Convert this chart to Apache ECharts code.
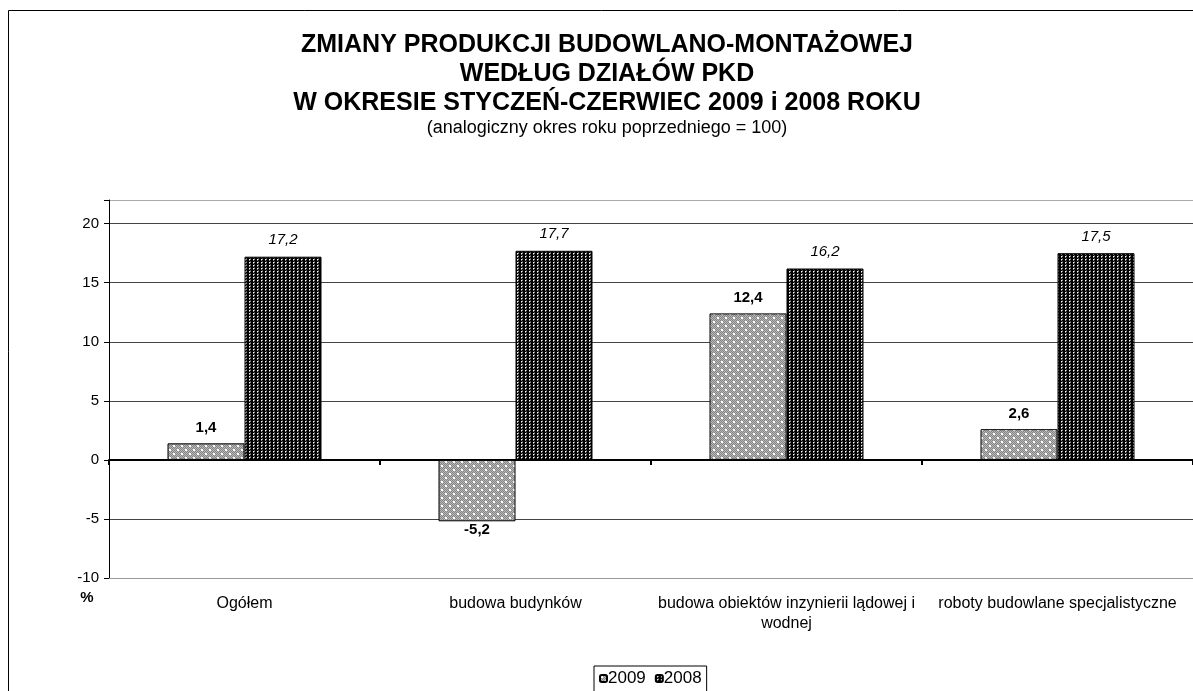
<!DOCTYPE html>
<html><head><meta charset="utf-8">
<script src="https://cdn.jsdelivr.net/npm/echarts@6/dist/echarts.min.js"></script>
<style>html,body{margin:0;padding:0;background:#fff}#c{width:1193px;height:691px}</style>
</head><body><div id="c"></div>
<script>
const categories = ['Ogółem', 'budowa budynków', 'budowa obiektów inzynierii lądowej i\nwodnej', 'roboty budowlane specjalistyczne'];
const values2009 = [1.4, -5.2, 12.4, 2.6];
const values2008 = [17.2, 17.7, 16.2, 17.5];
const seriesNames = ['2009', '2008'];
const titleLines = ['ZMIANY PRODUKCJI BUDOWLANO-MONTAŻOWEJ', 'WEDŁUG DZIAŁÓW PKD', 'W OKRESIE STYCZEŃ-CZERWIEC 2009 i 2008 ROKU'];
const subtitle = '(analogiczny okres roku poprzedniego = 100)';

function pat2009() {
  const c = document.createElement('canvas'); c.width = 8; c.height = 8;
  const g = c.getContext('2d');
  for (let y = 0; y < 8; y++) for (let x = 0; x < 8; x++) {
    g.fillStyle = ((x + y) % 2 === 0) ? '#858585' : '#b8b8b8';
    g.fillRect(x, y, 1, 1);
  }
  g.fillStyle = '#ffffff';
  g.fillRect(1, 1, 2, 2); g.fillRect(5, 5, 2, 2);
  return c;
}
function pat2008() {
  const c = document.createElement('canvas'); c.width = 4; c.height = 3;
  const g = c.getContext('2d');
  g.fillStyle = '#000000'; g.fillRect(0, 0, 4, 3);
  g.fillStyle = '#ffffff'; g.fillRect(1, 1, 1, 1);
  g.fillStyle = '#8a8a8a'; g.fillRect(2, 1, 1, 1); g.fillRect(1, 2, 1, 1);
  g.fillStyle = '#505050'; g.fillRect(2, 0, 1, 1);
  return c;
}
const fmt = v => v.toFixed(1).replace('.', ',');
const font = 'Liberation Sans, Arial, sans-serif';

const graphics = [
  { type: 'rect', shape: { x: 8.5, y: 10.5, width: 1200, height: 700 }, style: { fill: 'none', stroke: '#000', lineWidth: 1 }, silent: true },
  { type: 'text', x: 87, y: 598, style: { text: '%', font: 'bold 15px ' + font, fill: '#000', textAlign: 'center', textVerticalAlign: 'middle' } },
  { type: 'text', x: 607, y: 128, style: { text: subtitle, font: '18px ' + font, fill: '#000', textAlign: 'center', textVerticalAlign: 'middle' } }
];
titleLines.forEach((t, i) => graphics.push({
  type: 'text', x: 607, y: 45 + i * 29,
  style: { text: t, font: 'bold 25px ' + font, fill: '#000', textAlign: 'center', textVerticalAlign: 'middle' }
}));

const chart = echarts.init(document.getElementById('c'));
chart.setOption({
  animation: false,
  textStyle: { fontFamily: font },
  graphic: graphics,
  legend: {
    bottom: -8, left: 594, itemWidth: 7, itemHeight: 7, itemGap: 9,
    borderColor: '#000', borderWidth: 1, padding: [4, 5, 12, 5],
    textStyle: { fontFamily: font, fontSize: 17, color: '#000', padding: [0, 0, 0, -4] },
    data: seriesNames
  },
  grid: { left: 109, right: 0, top: 200, bottom: 113 },
  xAxis: [
    { type: 'category', data: categories, position: 'bottom',
      axisLine: { onZero: false, lineStyle: { color: '#999', width: 1 } },
      axisTick: { show: false },
      axisLabel: { fontFamily: font, fontSize: 16, color: '#000', margin: 16, lineHeight: 20, interval: 0 } },
    { type: 'category', data: categories, position: 'bottom',
      axisLine: { onZero: true, lineStyle: { color: '#000', width: 2 } },
      axisTick: { show: true, length: 5, lineStyle: { color: '#000', width: 2 } },
      axisLabel: { show: false } }
  ],
  yAxis: {
    type: 'value', min: -10, max: 22, interval: 5,
    axisLine: { show: true, lineStyle: { color: '#000', width: 1 } },
    axisTick: { show: true, length: 5, lineStyle: { color: '#000' } },
    axisLabel: { fontFamily: font, fontSize: 15, color: '#000', margin: 10,
      formatter: v => (v > 20 ? '' : String(v)) },
    splitLine: { show: true, lineStyle: { color: ['#aaa', '#444', '#444', '#444', '#444', '#444', '#444', '#aaa'], width: 1 } }
  },
  series: [
    { name: seriesNames[0], type: 'bar', xAxisIndex: 0, barWidth: 77, barGap: '0%',
      itemStyle: { color: { image: pat2009(), repeat: 'repeat' }, borderColor: '#000', borderWidth: 1 },
      label: { show: true, position: 'top', distance: 8, formatter: p => fmt(p.value), fontFamily: font, fontSize: 15, fontWeight: 'bold', color: '#000' },
      data: values2009.map(v => v < 0 ? { value: v, label: { position: 'bottom', distance: 1 } } : v) },
    { name: seriesNames[1], type: 'bar', xAxisIndex: 0, barWidth: 77, barGap: '0%',
      itemStyle: { color: { image: pat2008(), repeat: 'repeat' }, borderColor: '#000', borderWidth: 1 },
      label: { show: true, position: 'top', distance: 9, formatter: p => fmt(p.value), fontFamily: font, fontSize: 15, fontStyle: 'italic', color: '#000' },
      data: values2008 }
  ]
});
</script></body></html>
